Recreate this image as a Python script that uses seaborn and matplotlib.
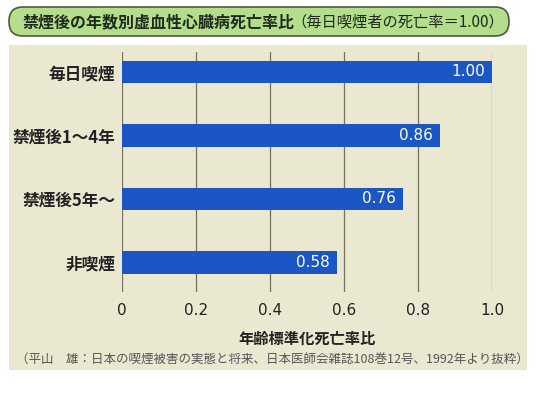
#年数別虚血性心臓病死亡率比 (禁煙後) - horizontal bar chart

import matplotlib
matplotlib.use("Agg")
import matplotlib.pyplot as plt
import seaborn as sns
import pandas as pd
from matplotlib.patches import FancyBboxPatch, Rectangle
from matplotlib.transforms import IdentityTransform

#data
categories = ["毎日喫煙", "禁煙後1～4年", "禁煙後5年～", "非喫煙"]
ratios = [1.00, 0.86, 0.76, 0.58]
value_labels = ["1.00", "0.86", "0.76", "0.58"]
xticks = [0, 0.2, 0.4, 0.6, 0.8, 1.0]
xtick_labels = ["0", "0.2", "0.4", "0.6", "0.8", "1.0"]

title_main = "禁煙後の年数別虚血性心臓病死亡率比"
title_sub = "（毎日喫煙者の死亡率＝1.00）"
xlabel = "年齢標準化死亡率比"
source = "（平山　雄：日本の喫煙被害の実態と将来、日本医師会雑誌108巻12号、1992年より抜粋）"

df = pd.DataFrame({"group": categories, "ratio": ratios})

sns.set_style("white")
plt.rcParams["font.family"] = ["Noto Sans CJK JP", "DejaVu Sans"]

W, H = 560, 398
fig = plt.figure(figsize=(W / 100, H / 100), dpi=100)
fig.patch.set_facecolor("white")

#beige panel behind the chart (pixel coords, origin bottom-left)
panel = Rectangle((9, H - 370), 518, 325, transform=IdentityTransform(),
                  facecolor="#ebe8d2", edgecolor="none", zorder=0)
fig.patches.append(panel)

#green rounded title box
tbox = FancyBboxPatch((9, H - 36), 500, 29, transform=IdentityTransform(),
                      boxstyle="round,pad=0,rounding_size=14",
                      facecolor="#b4de8c", edgecolor="#4b5a44", linewidth=1.2, zorder=1)
fig.patches.append(tbox)

fig.text(23 / W, 1 - 22 / H, title_main, fontsize=11.5, fontweight="bold",
         color="#1f2a1a", ha="left", va="center", zorder=3)
fig.text(291 / W, 1 - 22 / H, title_sub, fontsize=11, color="#1f2a1a",
         ha="left", va="center", zorder=3)

#axes area = the gridline area
ax = fig.add_axes([122 / W, (H - 292) / H, 370 / W, 240 / H])
ax.set_zorder(2)
ax.set_facecolor("none")

sns.barplot(data=df, x="ratio", y="group", orient="h", color="#1b56c6",
            width=0.35, saturation=1, linewidth=0, ax=ax, zorder=3)

ax.set_xlim(0, 1.0)
ax.set_ylim(3.465, -0.315)
ax.set_xticks(xticks)
ax.set_xticklabels(xtick_labels, fontsize=11, family="DejaVu Sans", color="#222222")
ax.set_yticks(range(len(categories)))
ax.set_yticklabels(categories, fontsize=12, fontweight="bold", color="#222222")
ax.tick_params(axis="both", length=0)
ax.tick_params(axis="x", pad=8)
ax.tick_params(axis="y", pad=5)

ax.xaxis.grid(True, color="#75705e", linewidth=0.9)
ax.yaxis.grid(False)
ax.set_axisbelow(True)
for s in ax.spines.values():
    s.set_visible(False)

ax.set_xlabel(xlabel, fontsize=11, fontweight="bold", color="#222222", labelpad=9)
ax.set_ylabel("")

#value labels inside the bar ends
for patch, lab in zip(ax.patches, value_labels):
    ax.annotate(lab, xy=(patch.get_width(), patch.get_y() + patch.get_height() / 2),
                xytext=(-7, 0), textcoords="offset pixels", ha="right", va="center",
                color="white", fontsize=11, family="DejaVu Sans")

fig.text(16 / W, 1 - 360 / H, source, fontsize=9, color="#555555",
         ha="left", va="center", zorder=3)

fig.savefig("out.png", dpi=100)
